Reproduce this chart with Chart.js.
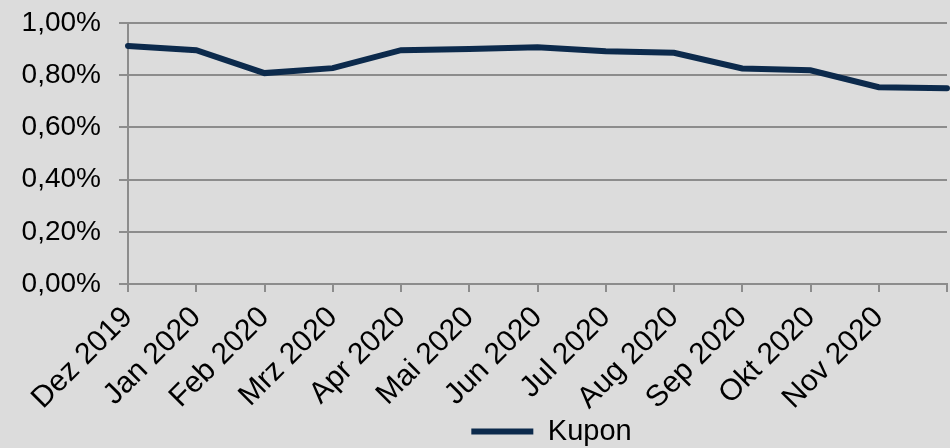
<!DOCTYPE html>
<html>
<head>
<meta charset="utf-8">
<script src="https://cdn.jsdelivr.net/npm/chart.js@4.4.1/dist/chart.umd.min.js"></script>
<style>
  html, body { margin: 0; padding: 0; background: #dcdcdc; }
  #wrap { width: 950px; height: 448px; }
</style>
</head>
<body>
<div id="wrap"><canvas id="chart1"></canvas></div>
<script>
const months = ["Dez 2019", "Jan 2020", "Feb 2020", "Mrz 2020", "Apr 2020", "Mai 2020", "Jun 2020", "Jul 2020", "Aug 2020", "Sep 2020", "Okt 2020", "Nov 2020", "Dez 2020"];
const kupon = [0.912, 0.896, 0.808, 0.827, 0.896, 0.900, 0.907, 0.892, 0.886, 0.826, 0.819, 0.754, 0.750];
const yTicks = [0, 0.2, 0.4, 0.6, 0.8, 1.0];

const navy = "#0c2a4c";
const gridGray = "#8c8c8c";
const font = "'Liberation Sans', Arial, sans-serif";

const bgPlugin = {
  id: "bg",
  beforeDraw(chart) {
    const ctx = chart.ctx;
    ctx.save();
    ctx.fillStyle = "#dcdcdc";
    ctx.fillRect(0, 0, chart.width, chart.height);
    ctx.restore();
  },
  afterLayout(chart) {
    // let the slanted month labels run past the axis box instead of being clipped
    if (chart.scales.x) chart.scales.x.bottom = chart.height;
    // legend sits a bit right of centre and lower in the original
    const lg = chart.legend;
    if (!lg) return;
    lg.left += 156;
    lg.top += 8;
    lg.bottom += 8;
  }
};

function makeChart(id) {
  const canvas = document.getElementById(id);
  if (!canvas || !window.Chart) return;
  canvas._chartInstance = new Chart(canvas, {
    type: "line",
    data: {
      labels: months,
      datasets: [{
        label: "Kupon",
        data: kupon,
        borderColor: navy,
        backgroundColor: navy,
        borderWidth: 6,
        borderCapStyle: "round",
        pointRadius: 0,
        tension: 0
      }]
    },
    options: {
      responsive: true,
      maintainAspectRatio: false,
      animation: false,
      layout: { padding: { top: 0, right: 3, left: 0, bottom: 0 } },
      plugins: {
        tooltip: { enabled: false },
        legend: {
          position: "bottom",
          labels: {
            usePointStyle: true,
            pointStyle: "line",
            pointStyleWidth: 62,
            color: "#000",
            font: { family: font, size: 29 },
            padding: 4
          }
        }
      },
      scales: {
        x: {
          grid: { display: true, drawOnChartArea: false, drawTicks: true, tickLength: 8, color: gridGray, lineWidth: 2 },
          border: { color: gridGray, width: 2 },
          ticks: {
            autoSkip: false,
            minRotation: 45,
            maxRotation: 45,
            padding: 8,
            color: "#000",
            font: { family: font, size: 30 },
            callback: (v, i) => i === months.length - 1 ? "" : months[i]
          },
          afterFit: s => { s.height = 121; s.paddingRight = 0; }
        },
        y: {
          min: 0,
          max: 1,
          afterBuildTicks: s => { s.ticks = yTicks.map(v => ({ value: v })); },
          grid: { color: gridGray, lineWidth: 2, tickLength: 9 },
          border: { color: gridGray, width: 2 },
          ticks: {
            padding: 18,
            color: "#000",
            font: { family: font, size: 28 },
            callback: v => v.toFixed(2).replace(".", ",") + "%"
          },
          afterFit: s => { s.width = 128; s.paddingTop = 23; }
        }
      }
    },
    plugins: [bgPlugin]
  });
}

makeChart("chart1");
</script>
</body>
</html>
